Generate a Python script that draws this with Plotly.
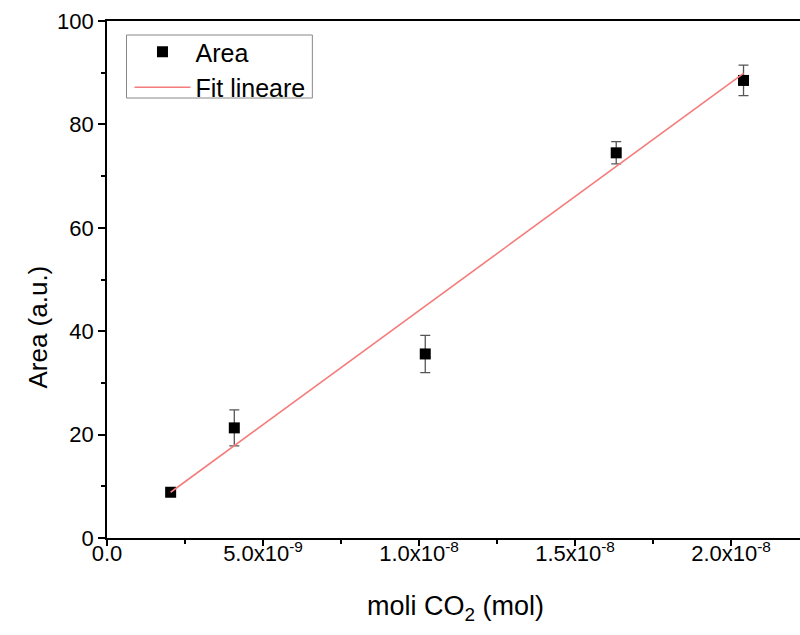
import numpy as np
import plotly.graph_objects as go

# Data
moli_co2 = [2.04e-9, 4.08e-9, 1.02e-8, 1.632e-8, 2.04e-8]
area = [8.85, 21.3, 35.6, 74.5, 88.5]
area_err = [0.5, 3.5, 3.6, 2.15, 2.95]

x_tickvals = [0, 5e-9, 1e-8, 1.5e-8, 2e-8]
x_ticktext = ["0.0", "5.0x10<sup>-9</sup>", "1.0x10<sup>-8</sup>",
              "1.5x10<sup>-8</sup>", "2.0x10<sup>-8</sup>"]

# Weighted linear fit (instrumental weighting)
xs = np.array(moli_co2)
ys = np.array(area)
ws = 1.0 / np.array(area_err)
slope, intercept = np.polyfit(xs, ys, 1, w=ws)
fit_x = [xs.min(), xs.max()]
fit_y = [slope * v + intercept for v in fit_x]

FONT = "Arial, Liberation Sans, Helvetica, sans-serif"

fig = go.Figure()
fig.add_trace(go.Scatter(
    x=moli_co2, y=area, mode="markers", name="Area",
    marker=dict(symbol="square", size=11, color="black"),
    error_y=dict(type="data", array=area_err, visible=True,
                 color="#555555", thickness=1.3, width=5),
))
fig.add_trace(go.Scatter(
    x=fit_x, y=fit_y, mode="lines", name="Fit lineare",
    line=dict(color="#F47C7C", width=1.6),
))

# target plot-area edges in page pixels
L, R, T, B = 106.5, 800, 21, 538
W, H = 800, 635

def px_x(p):
    return (p - L) / (R - L)

def px_y(p):
    return (B - p) / (B - T)

fig.update_layout(
    width=W, height=H,
    margin=dict(l=L, r=W - R, t=T, b=H - B, autoexpand=False),
    paper_bgcolor="white", plot_bgcolor="white",
    font=dict(family=FONT, color="black", size=22),
    showlegend=True,
    legend=dict(
        x=px_x(129), y=px_y(29), xanchor="left", yanchor="top",
        borderwidth=0, bgcolor="rgba(0,0,0,0)",
        font=dict(size=25, family=FONT), itemwidth=56,
        tracegroupgap=0,
    ),
    shapes=[
        dict(type="rect", xref="paper", yref="paper",
             x0=px_x(126), x1=px_x(312), y0=px_y(98), y1=px_y(35),
             line=dict(color="#888888", width=1), fillcolor="white",
             layer="below"),
    ],
    annotations=[
        dict(text="Area (a.u.)", textangle=-90, x=px_x(37), y=px_y(327),
             xref="paper", yref="paper", showarrow=False,
             font=dict(size=26, family=FONT), xanchor="center", yanchor="middle"),
        dict(text="moli CO<sub>2</sub> (mol)", x=px_x(455), y=px_y(608),
             xref="paper", yref="paper", showarrow=False,
             font=dict(size=27, family=FONT), xanchor="center", yanchor="middle"),
    ],
)

fig.update_xaxes(
    range=[0, 2.221e-8], showgrid=False, zeroline=False, automargin=False,
    showline=True, linecolor="black", linewidth=1.8, mirror=True,
    ticks="outside", ticklen=6, tickwidth=1.5, tickcolor="black",
    tickmode="array", tickvals=x_tickvals, ticktext=x_ticktext,
    tickfont=dict(size=22, family=FONT), ticklabelstandoff=-11,
    minor=dict(tick0=0, dtick=2.5e-9, ticks="outside", ticklen=4,
               tickwidth=1.5, tickcolor="black", showgrid=False),
)
fig.update_yaxes(
    range=[0, 100], showgrid=False, zeroline=False, automargin=False,
    showline=True, linecolor="black", linewidth=1.8, mirror=False,
    ticks="outside", ticklen=7, tickwidth=1.5, tickcolor="black",
    dtick=20, tick0=0, tickfont=dict(size=22, family=FONT),
    minor=dict(tick0=0, dtick=10, ticks="outside", ticklen=4,
               tickwidth=1.5, tickcolor="black", showgrid=False),
)

fig.write_html(
    "out.html",
    config={"displayModeBar": False},
    post_script="document.body.style.margin='0';document.body.style.overflow='hidden';",
)
